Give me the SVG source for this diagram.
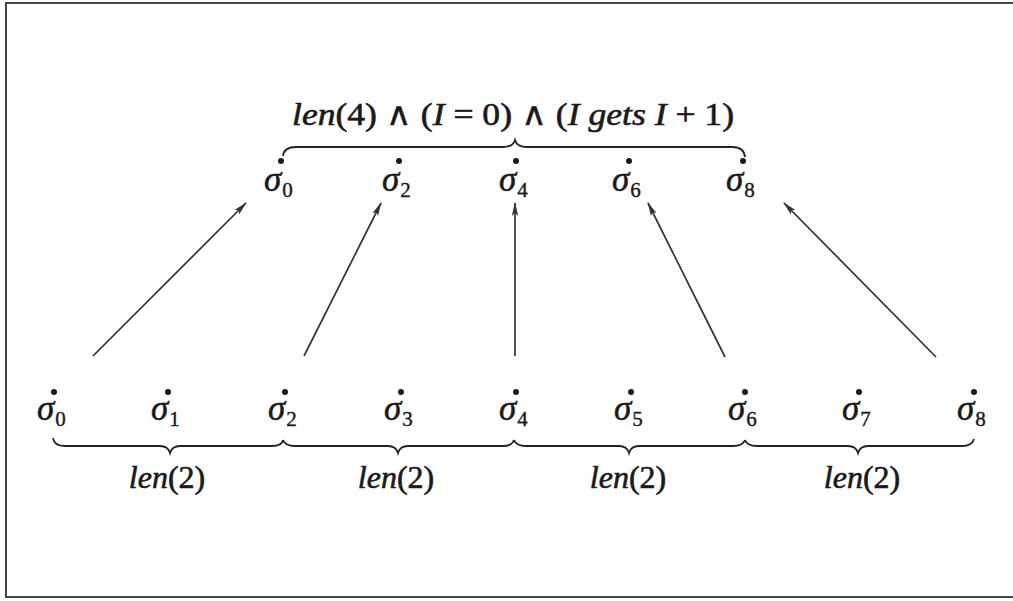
<svg xmlns="http://www.w3.org/2000/svg" width="1013" height="601" viewBox="0 0 1013 601">
<style>
.sig{font-family:"Liberation Serif",serif;font-style:italic;font-size:35px;fill:#1a1a1a;stroke:#1a1a1a;stroke-width:0.5}
.sub{font-family:"Liberation Serif",serif;font-style:normal;font-size:21px;stroke-width:0.4}
.dot{fill:#1a1a1a}
.lbl{font-family:"Liberation Serif",serif;font-size:32px;fill:#1a1a1a;stroke:#1a1a1a;stroke-width:0.6}
.it{font-style:italic}
.op{font-family:"DejaVu Serif",serif;font-size:32px;stroke-width:0.3}
.brace{fill:none;stroke:#222;stroke-width:1.8}
.arr{stroke:#333;stroke-width:1.7;fill:none;marker-end:url(#ah)}
.frame{fill:none;stroke:#444;stroke-width:2}
</style>
<defs>
<marker id="ah" viewBox="0 0 14 8" refX="13" refY="4" markerWidth="14" markerHeight="8" markerUnits="userSpaceOnUse" orient="auto">
<path d="M0,0.8 L14,4 L0,7.2 L3,4 Z" fill="#333"/>
</marker>
</defs>
<rect width="1013" height="601" fill="#fff"/>
<path class="frame" d="M1013,3 L6,3 L6,597 L1013,597"/>

<g id="formula-top">
<text class="lbl" x="513" y="125" text-anchor="middle" textLength="442" lengthAdjust="spacingAndGlyphs"><tspan class="it">len</tspan>(4) <tspan class="op">∧</tspan> (<tspan class="it">I</tspan> = 0) <tspan class="op">∧</tspan> (<tspan class="it">I gets I</tspan> + 1)</text>
<path class="brace" d="M283,156 Q284,147 296,147 L503,147 Q513,147 515,140 Q517,147 527,147 L732,147 Q744,147 745,157"/>
</g>

<g id="top-s0"><text class="sig" x="264" y="191">σ<tspan class="sub" dx="1" dy="6">0</tspan></text><circle class="dot" cx="281" cy="161" r="3"/></g>
<g id="top-s2"><text class="sig" x="382" y="191">σ<tspan class="sub" dx="1" dy="6">2</tspan></text><circle class="dot" cx="399" cy="161" r="3"/></g>
<g id="top-s4"><text class="sig" x="499" y="191">σ<tspan class="sub" dx="1" dy="6">4</tspan></text><circle class="dot" cx="516" cy="161" r="3"/></g>
<g id="top-s6"><text class="sig" x="612" y="191">σ<tspan class="sub" dx="1" dy="6">6</tspan></text><circle class="dot" cx="629" cy="161" r="3"/></g>
<g id="top-s8"><text class="sig" x="726" y="191">σ<tspan class="sub" dx="1" dy="6">8</tspan></text><circle class="dot" cx="743" cy="161" r="3"/></g>

<g id="bot-s0"><text class="sig" x="37" y="420">σ<tspan class="sub" dx="1" dy="6">0</tspan></text><circle class="dot" cx="54" cy="392" r="3"/></g>
<g id="bot-s1"><text class="sig" x="151" y="420">σ<tspan class="sub" dx="1" dy="6">1</tspan></text><circle class="dot" cx="168" cy="392" r="3"/></g>
<g id="bot-s2"><text class="sig" x="268" y="420">σ<tspan class="sub" dx="1" dy="6">2</tspan></text><circle class="dot" cx="285" cy="392" r="3"/></g>
<g id="bot-s3"><text class="sig" x="384" y="420">σ<tspan class="sub" dx="1" dy="6">3</tspan></text><circle class="dot" cx="401" cy="392" r="3"/></g>
<g id="bot-s4"><text class="sig" x="499" y="420">σ<tspan class="sub" dx="1" dy="6">4</tspan></text><circle class="dot" cx="516" cy="392" r="3"/></g>
<g id="bot-s5"><text class="sig" x="614" y="420">σ<tspan class="sub" dx="1" dy="6">5</tspan></text><circle class="dot" cx="631" cy="392" r="3"/></g>
<g id="bot-s6"><text class="sig" x="728" y="420">σ<tspan class="sub" dx="1" dy="6">6</tspan></text><circle class="dot" cx="745" cy="392" r="3"/></g>
<g id="bot-s7"><text class="sig" x="842" y="420">σ<tspan class="sub" dx="1" dy="6">7</tspan></text><circle class="dot" cx="859" cy="392" r="3"/></g>
<g id="bot-s8"><text class="sig" x="957" y="420">σ<tspan class="sub" dx="1" dy="6">8</tspan></text><circle class="dot" cx="974" cy="392" r="3"/></g>

<g id="len2-a">
<path class="brace" d="M53,438 Q54,446 65,446 L160,446 Q168,446 170,453 Q172,446 180,446 L272,446 Q282,446 283,440"/>
<text class="lbl" x="167" y="488" text-anchor="middle"><tspan class="it">len</tspan>(2)</text>
</g>
<g id="len2-b">
<path class="brace" d="M283,440 Q285,446 295,446 L388,446 Q396,446 398,453 Q400,446 408,446 L503,446 Q512,446 514,440"/>
<text class="lbl" x="396" y="488" text-anchor="middle"><tspan class="it">len</tspan>(2)</text>
</g>
<g id="len2-c">
<path class="brace" d="M514,440 Q516,446 526,446 L619,446 Q627,446 629,453 Q631,446 639,446 L733,446 Q743,446 745,440"/>
<text class="lbl" x="628" y="488" text-anchor="middle"><tspan class="it">len</tspan>(2)</text>
</g>
<g id="len2-d">
<path class="brace" d="M745,440 Q747,446 757,446 L848,446 Q856,446 858,453 Q860,446 868,446 L962,446 Q972,446 974,439"/>
<text class="lbl" x="862" y="488" text-anchor="middle"><tspan class="it">len</tspan>(2)</text>
</g>

<g id="connectors">
<line class="arr" x1="93" y1="356" x2="246" y2="203"/>
<line class="arr" x1="304" y1="356" x2="381" y2="203"/>
<line class="arr" x1="515" y1="356" x2="515" y2="203"/>
<line class="arr" x1="725" y1="357" x2="648" y2="203"/>
<line class="arr" x1="936" y1="357" x2="784" y2="203"/>
</g>
</svg>
